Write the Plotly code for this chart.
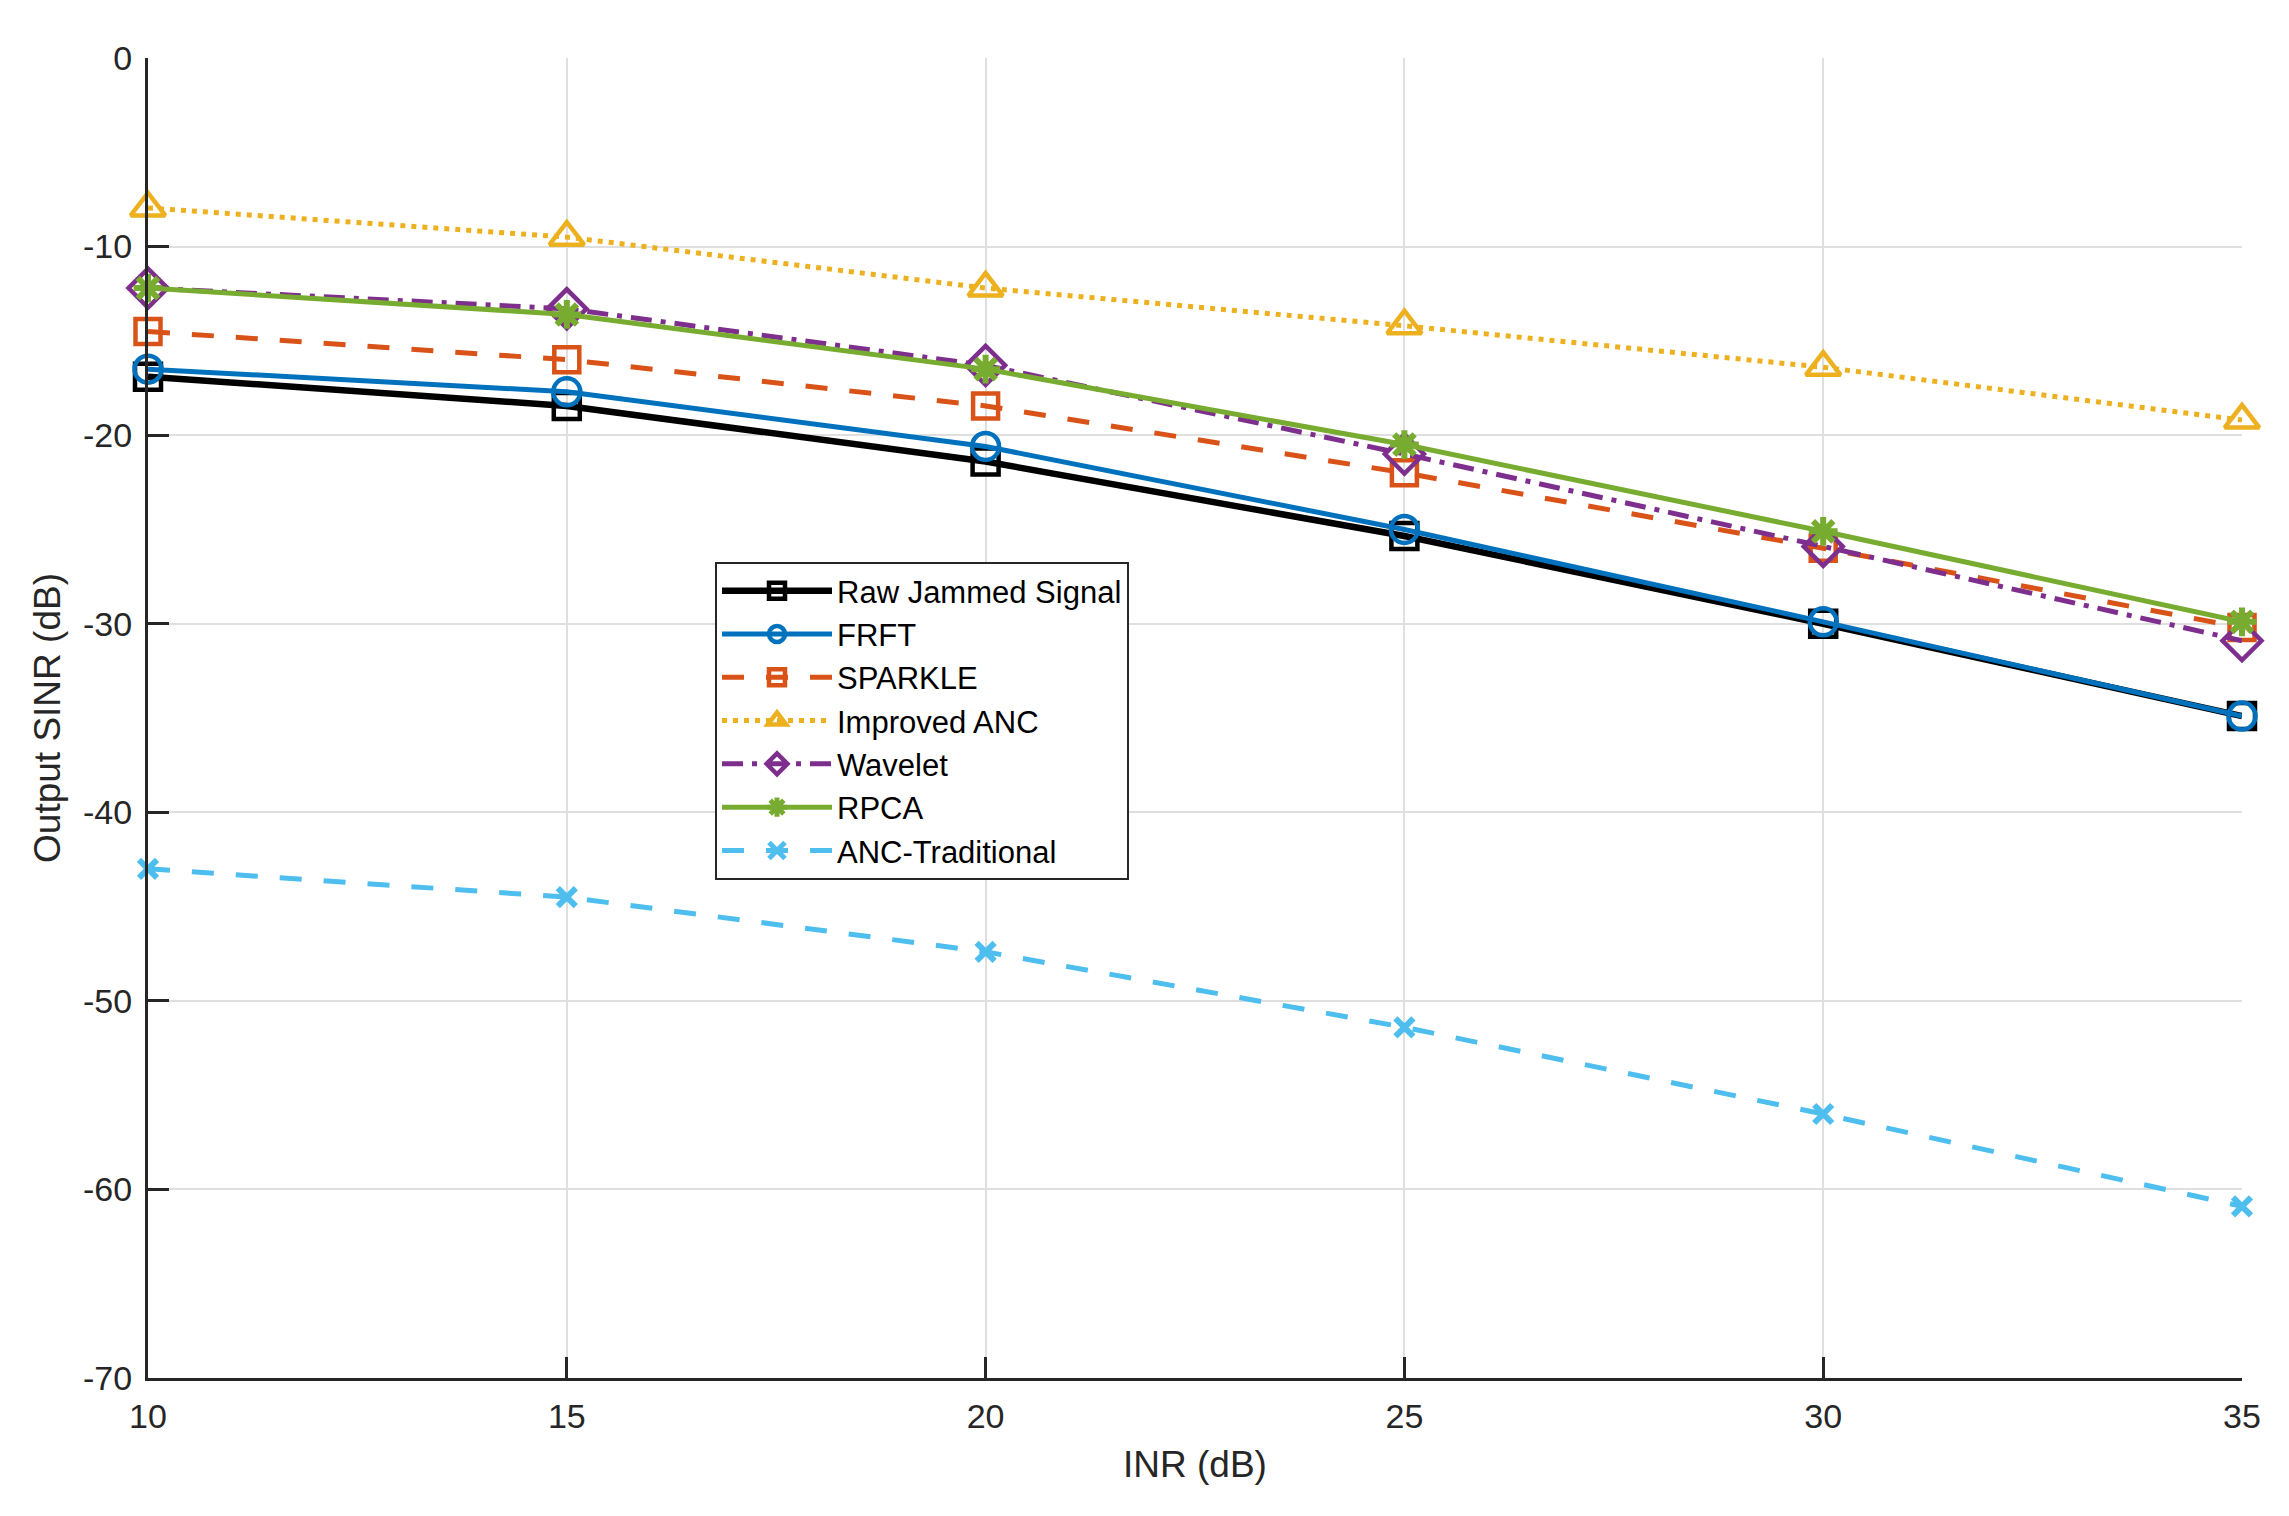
import plotly.graph_objects as go

inr = [10, 15, 20, 25, 30, 35]
raw = [-16.9, -18.45, -21.4, -25.35, -30.0, -34.9]
frft = [-16.5, -17.7, -20.6, -25.0, -29.9, -34.9]
sparkle = [-14.5, -16.0, -18.45, -22.0, -26.0, -30.2]
improved_anc = [-7.95, -9.5, -12.2, -14.2, -16.4, -19.2]
wavelet = [-12.2, -13.3, -16.3, -21.0, -25.9, -30.9]
rpca = [-12.2, -13.6, -16.5, -20.5, -25.1, -29.9]
anc_trad = [-43.0, -44.5, -47.4, -51.4, -56.0, -60.9]

y_ticks = [0, -10, -20, -30, -40, -50, -60, -70]
y_tick_labels = ["0", "-10", "-20", "-30", "-40", "-50", "-60", "-70"]
x_ticks = [10, 15, 20, 25, 30, 35]

series = [
    ("Raw Jammed Signal", raw, "#000000", "solid", 6.5, "square-open", 26, 4.5),
    ("FRFT", frft, "#0072BD", "solid", 5, "circle-open", 27, 4.5),
    ("SPARKLE", sparkle, "#D95319", "22px,22px", 5, "square-open", 25, 4.5),
    ("Improved ANC", improved_anc, "#EDB120", "5px,6px", 5, "triangle-up-open", 30, 4.5),
    ("Wavelet", wavelet, "#7E2F8E", "21px,9px,5px,9px", 5, "diamond-open", 30, 4.5),
    ("RPCA", rpca, "#77AC30", "solid", 5, "asterisk-open", 24, 6),
    ("ANC-Traditional", anc_trad, "#4DBEEE", "22px,22px", 5, "x-thin-open", 18, 6),
]

fig = go.Figure()
for name, vals, color, dash, lw, sym, ms, mlw in series:
    fig.add_trace(go.Scatter(
        x=inr, y=vals, name=name, mode="lines+markers",
        line=dict(color=color, width=lw, dash=dash),
        marker=dict(symbol=sym, size=ms, color=color,
                    line=dict(color=color, width=mlw)),
        cliponaxis=False,
    ))

font_family = "Arial, Liberation Sans, Helvetica, sans-serif"
axis_color = "#262626"
grid_color = "#DFDFDF"

fig.update_layout(
    width=2289, height=1516,
    margin=dict(l=148, r=47, t=58, b=138),
    plot_bgcolor="white", paper_bgcolor="white",
    font=dict(family=font_family, size=34, color=axis_color),
    showlegend=True,
    legend=dict(
        x=(715 - 148) / 2094, y=1 - (562 - 58) / 1320,
        xanchor="left", yanchor="top",
        bgcolor="white", bordercolor=axis_color, borderwidth=2,
        font=dict(family=font_family, size=31, color="#000000"),
        itemwidth=110, tracegroupgap=0,
    ),
)
fig.update_xaxes(
    range=[10, 35], tickvals=x_ticks,
    showgrid=True, gridcolor=grid_color, gridwidth=2,
    showline=True, linecolor=axis_color, linewidth=3,
    ticks="inside", ticklen=21, tickwidth=3, tickcolor=axis_color,
    zeroline=False,
    title=dict(text="INR (dB)", font=dict(size=37, color=axis_color), standoff=18),
    ticklabelstandoff=6,
)
fig.update_yaxes(
    range=[-70, 0], tickvals=y_ticks, ticktext=y_tick_labels,
    showgrid=True, gridcolor=grid_color, gridwidth=2,
    showline=True, linecolor=axis_color, linewidth=3,
    ticks="inside", ticklen=21, tickwidth=3, tickcolor=axis_color,
    zeroline=False,
    title=dict(text="Output SINR (dB)", font=dict(size=37, color=axis_color), standoff=12),
    ticklabelstandoff=6,
)

fig.write_html("out.html")
